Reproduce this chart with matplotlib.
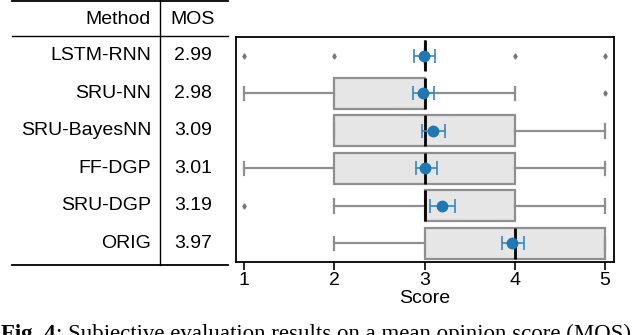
import numpy as np
import matplotlib
matplotlib.use("Agg")
import matplotlib.pyplot as plt
from matplotlib.lines import Line2D
from matplotlib.transforms import blended_transform_factory

# -- data --
methods = ["LSTM-RNN", "SRU-NN", "SRU-BayesNN", "FF-DGP", "SRU-DGP", "ORIG"]
mos = ["2.99", "2.98", "3.09", "3.01", "3.19", "3.97"]

q1 = [3, 2, 2, 2, 3, 3]
med = [3, 3, 3, 3, 3, 4]
q3 = [3, 3, 4, 4, 4, 5]
whislo = [3, 1, 2, 1, 2, 2]
whishi = [3, 4, 5, 5, 5, 5]
fliers = [[1, 2, 4, 5], [5], [], [], [1], []]

means = [2.99, 2.98, 3.09, 3.01, 3.19, 3.97]
ci_lo = [2.88, 2.87, 2.97, 2.90, 3.06, 3.86]
ci_hi = [3.12, 3.11, 3.23, 3.14, 3.34, 4.10]

plt.rcParams['font.family'] = ['Liberation Sans', 'DejaVu Sans']
FS = 14

fig = plt.figure(figsize=(6.4, 3.35), dpi=100)
W, H = 640, 335
ax = fig.add_axes([236 / W, 1 - 262 / H, (614 - 236) / W, (262 - 37) / H])

stats = []
for i in range(len(methods)):
    stats.append(dict(med=med[i], q1=q1[i], q3=q3[i], whislo=whislo[i],
                      whishi=whishi[i], fliers=fliers[i], label=methods[i]))

gray = '#8f8f8f'
ax.bxp(stats, positions=np.arange(len(methods)), orientation='horizontal',
       widths=0.82, patch_artist=True, showfliers=True,
       boxprops=dict(facecolor='#e6e6e6', edgecolor=gray, linewidth=1.6),
       whiskerprops=dict(color=gray, linewidth=1.6),
       capprops=dict(color=gray, linewidth=1.6),
       capwidths=0.36,
       medianprops=dict(color='black', linewidth=2.0),
       flierprops=dict(marker='d', markersize=2.6, markerfacecolor='#777777',
                       markeredgecolor='#777777'))

ypos = np.arange(len(methods))
err = [np.array(means) - np.array(ci_lo), np.array(ci_hi) - np.array(means)]
ax.errorbar(means, ypos, xerr=err, fmt='o', color='#1f77b4', ecolor='#3a87c0',
            markersize=7.5, elinewidth=1.2, capsize=5, capthick=1.2, zorder=5)

ax.set_xlim(0.91, 5.1)
ax.set_ylim(5.5, -0.5)
ax.set_yticks([])
ax.set_xticks([1, 2, 3, 4, 5])
ax.tick_params(axis='x', direction='out', length=6, width=1.2, labelsize=FS, pad=1)
for s in ax.spines.values():
    s.set_linewidth(1.3)
ax.set_xlabel("Score", fontsize=FS, labelpad=1)

# -- table on the left --
tr = blended_transform_factory(fig.transFigure, ax.transData)
for i, (m, v) in enumerate(zip(methods, mos)):
    fig.text(151 / W, i, m, transform=tr, ha='right', va='center', fontsize=FS)
    fig.text(193 / W, i, v, transform=tr, ha='center', va='center', fontsize=FS)
fig.text(151 / W, 1 - 20 / H, "Method", ha='right', va='center', fontsize=FS)
fig.text(193 / W, 1 - 20 / H, "MOS", ha='center', va='center', fontsize=FS)

for y in [1, 36, 265]:
    fig.add_artist(Line2D([12 / W, 228 / W], [1 - y / H, 1 - y / H],
                          color='black', linewidth=1.3 if y != 36 else 1.0))
fig.add_artist(Line2D([160 / W, 160 / W], [1 - 0 / H, 1 - 265 / H],
                      color='black', linewidth=1.0))

# caption, cut off at the bottom edge like the source
cap_y = 1 - 340 / H
t1 = fig.text(1 / W, cap_y, "Fig. 4", fontsize=16.5, fontweight='bold',
              family=['Liberation Serif'], ha='left', va='baseline')
fig.canvas.draw()
bb = t1.get_window_extent(fig.canvas.get_renderer())
fig.text(bb.x1 / W, cap_y, ": Subjective evaluation results on a mean opinion score (MOS)",
         fontsize=16.5, family=['Liberation Serif'], ha='left', va='baseline')

fig.savefig("out.png", dpi=100)
